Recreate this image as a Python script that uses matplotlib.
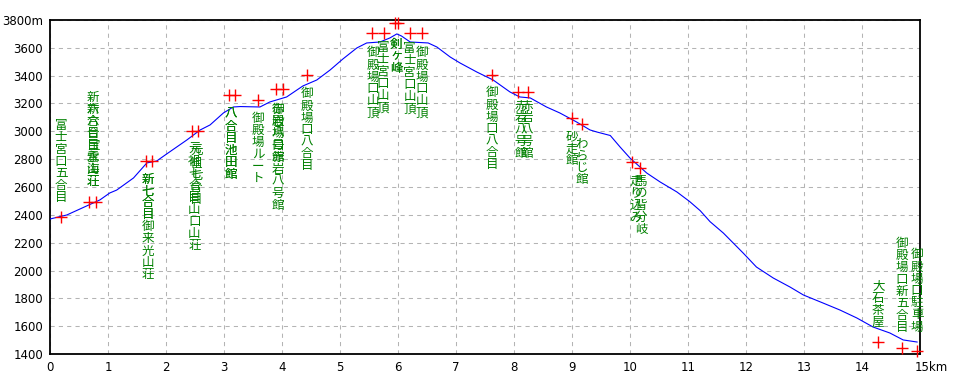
import matplotlib
matplotlib.use('Agg')
import matplotlib.pyplot as plt
from matplotlib.transforms import offset_copy, ScaledTranslation

# ---------------- data ----------------
dist_km = [0.0, 0.29, 0.86, 1.03, 1.15, 1.44, 1.67, 1.84, 2.01, 2.36, 2.59, 2.76,
           2.99, 3.16, 3.28, 3.62, 3.79, 4.08, 4.36, 4.60, 4.83, 5.05, 5.29, 5.46,
           5.69, 5.86, 5.98, 6.06, 6.21, 6.52, 6.67, 6.90, 7.07, 7.36, 7.64, 7.93,
           8.10, 8.28, 8.56, 8.79, 9.08, 9.31, 9.43, 9.66, 9.83, 10.00, 10.29,
           10.52, 10.81, 11.03, 11.21, 11.38, 11.61, 11.95, 12.18, 12.47, 12.76,
           12.99, 13.33, 13.62, 13.91, 14.19, 14.48, 14.71, 14.95]
elev_m = [2370, 2399, 2507, 2557, 2578, 2665, 2773, 2787, 2837, 2938, 3010, 3046,
          3132, 3175, 3178, 3175, 3211, 3247, 3326, 3369, 3441, 3520, 3599, 3635,
          3642, 3671, 3700, 3685, 3642, 3635, 3606, 3534, 3491, 3426, 3369, 3283,
          3247, 3240, 3175, 3132, 3067, 3010, 2995, 2970, 2887, 2808, 2700,
          2636, 2564, 2495, 2430, 2351, 2269, 2126, 2025, 1946, 1881,
          1824, 1766, 1716, 1659, 1594, 1551, 1501, 1486]

wp_names = ["富士宮口五合目", "新六合目宝永山荘", "新六合目雲海荘",
            "新七合目御来光山荘", "新七合目",
            "元祖七合目山口山荘", "元祖七合目",
            "八合目池田館", "八合目池田館",
            "御殿場ルート",
            "赤岩八号館", "御殿場口赤岩八号館",
            "御殿場口八合目",
            "御殿場口山頂", "富士宮口山頂", "剣ヶ峰", "剣ヶ峰", "富士宮口山頂", "御殿場口山頂",
            "御殿場口八合目",
            "赤岩八号館", "赤岩八号館",
            "砂走館", "わらじ館",
            "走り込み", "馬の背分岐",
            "大石茶屋", "御殿場口新五合目", "御殿場口駐車場"]
wp_km = [0.19, 0.67, 0.79,
         1.65, 1.75,
         2.45, 2.55,
         3.09, 3.19,
         3.59,
         3.90, 4.02,
         4.43,
         5.55, 5.76, 5.94, 6.00, 6.20, 6.41,
         7.62,
         8.07, 8.24,
         9.00, 9.17,
         10.03, 10.17,
         14.28, 14.69, 14.95]
wp_elev = [2384, 2492, 2492,
           2787, 2787,
           3002, 3002,
           3261, 3261,
           3225,
           3304, 3304,
           3405,
           3707, 3707, 3778, 3778, 3707, 3707,
           3405,
           3283, 3283,
           3096, 3053,
           2780, 2736,
           1486, 1443, 1422]

x_ticks = [0, 1, 2, 3, 4, 5, 6, 7, 8, 9, 10, 11, 12, 13, 14, 15]
x_tick_labels = ["0", "1", "2", "3", "4", "5", "6", "7", "8", "9", "10", "11",
                 "12", "13", "14", "15km"]
y_ticks = [1400, 1600, 1800, 2000, 2200, 2400, 2600, 2800, 3000, 3200, 3400, 3600, 3800]
y_tick_labels = ["1400", "1600", "1800", "2000", "2200", "2400", "2600", "2800",
                 "3000", "3200", "3400", "3600", "3800m"]

# ---------------- layout (label placement) ----------------
label_km = [0.19, 0.74, 0.74,
            1.69, 1.69,
            2.49, 2.52,
            3.12, 3.12,
            3.59,
            3.93, 3.93,
            4.43,
            5.57, 5.74, 5.97, 5.97, 6.20, 6.41,
            7.62,
            8.12, 8.22,
            9.00, 9.17,
            10.10, 10.19,
            14.28, 14.69, 14.95]
label_side = ["above", "above", "above",
              "below", "below",
              "below", "below",
              "below", "below",
              "below",
              "below", "below",
              "below",
              "below", "below", "below", "below", "below", "below",
              "below",
              "below", "below",
              "below", "below",
              "below", "below",
              "above", "above", "above"]
label_gap_px = [14, 15, 15,
                12, 12,
                12, 14,
                13, 13,
                12,
                14, 14,
                13,
                14, 9, 15, 15, 10, 14,
                12,
                8, 8,
                13, 14,
                13, 7,
                14, 15, 18]

DPI = 100
fig = plt.figure(figsize=(9.6, 3.84), dpi=DPI)
ax = fig.add_axes([50 / 960, 30 / 384, 870 / 960, 334 / 384])

ax.set_xlim(0, 15)
ax.set_ylim(1400, 3800)

ax.grid(True, color='#b4b4b4', linestyle=(0, (4, 4)), linewidth=0.75)
ax.set_axisbelow(True)

ax.plot(dist_km, elev_m, color='#0000ff', linewidth=0.8, zorder=3)
ax.plot(wp_km, wp_elev, linestyle='none', marker='+', color='#ff0000',
        markersize=9, markeredgewidth=1.0, zorder=4, clip_on=False)

pitch = 12
cjk = ['Noto Sans CJK JP', 'DejaVu Sans']
for name, lx, e, side, gap in zip(wp_names, label_km, wp_elev, label_side, label_gap_px):
    n = len(name)
    for i, ch in enumerate(name):
        if side == 'below':
            dy = -(gap + i * pitch + pitch / 2)
        else:
            dy = gap + (n - 1 - i) * pitch + pitch / 2
        tr = offset_copy(ax.transData, fig=fig, x=0, y=dy, units='dots')
        ax.text(lx, e, ch, transform=tr, ha='center', va='center',
                fontsize=9.0, color='#008000', family=cjk, zorder=5, clip_on=False)

ax.set_xticks(x_ticks)
ax.set_xticklabels(x_tick_labels)
ax.set_yticks(y_ticks)
ax.set_yticklabels(y_tick_labels)
ax.tick_params(axis='both', length=0, labelsize=8.5, colors='black')
ax.tick_params(axis='x', pad=5)
ax.tick_params(axis='y', pad=5)

last = ax.get_xticklabels()[-1]
last.set_horizontalalignment('left')
last.set_transform(last.get_transform() + ScaledTranslation(-5 / DPI, 0, fig.dpi_scale_trans))

for sp in ax.spines.values():
    sp.set_color('black')
    sp.set_linewidth(1.3)

fig.savefig('out.png', dpi=DPI)
